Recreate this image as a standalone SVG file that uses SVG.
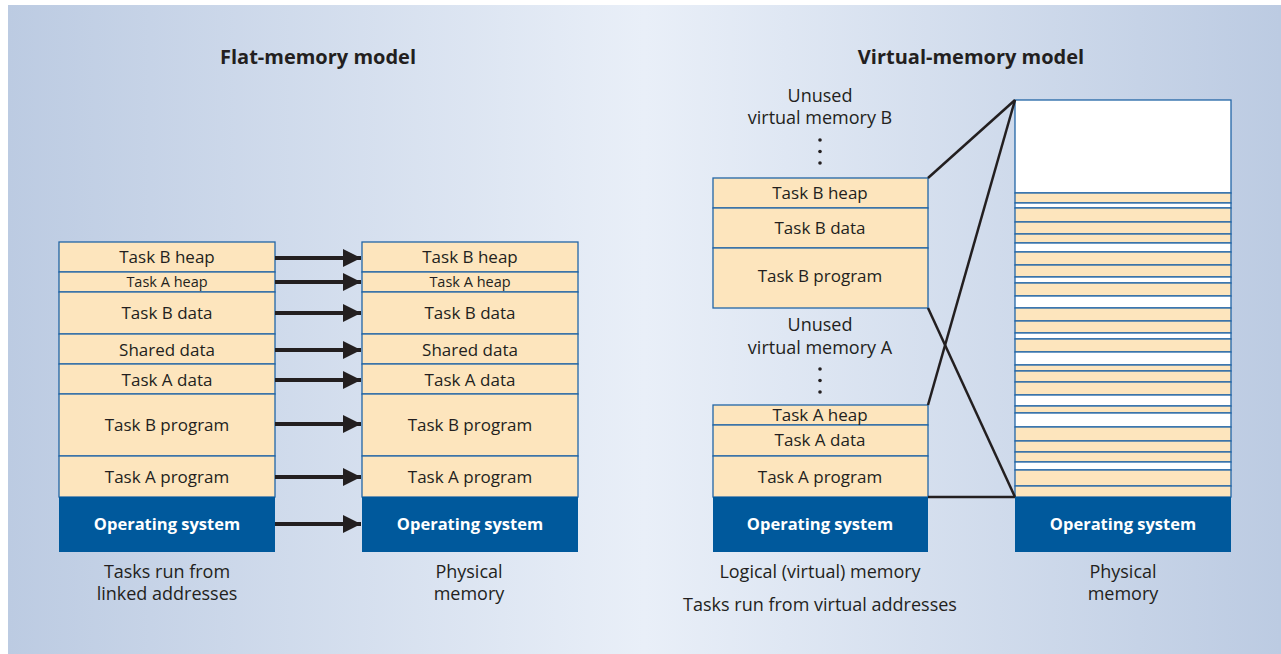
<svg xmlns="http://www.w3.org/2000/svg" width="1281" height="654" viewBox="0 0 1281 654">
<defs>
<linearGradient id="bg" x1="0" y1="0" x2="1" y2="0">
<stop offset="0" stop-color="#bccbe2"/>
<stop offset="0.5" stop-color="#e9eff8"/>
<stop offset="1" stop-color="#bccbe2"/>
</linearGradient>
<marker id="ah" viewBox="0 0 18 18" refX="18" refY="9" markerWidth="18" markerHeight="18" markerUnits="userSpaceOnUse" orient="auto">
<path d="M0,0 L18,9 L0,18 Z" fill="#231f20"/>
</marker>
</defs>
<style>
text{font-family:"Open Sans","Noto Sans","Liberation Sans",sans-serif;fill:#231f20;text-anchor:middle;}
.t{font-size:17px;}
.s{font-size:14.5px;}
.l{font-size:18px;}
.h{font-size:20px;font-weight:bold;}
.os{font-size:16.5px;font-weight:bold;fill:#ffffff;}
.cell{fill:#fde5bd;stroke:#2366a6;stroke-width:1.3;}
.wh{fill:#ffffff;stroke:#2366a6;stroke-width:1.3;}
.osr{fill:#00599c;}
.arr{stroke:#231f20;stroke-width:4;fill:none;marker-end:url(#ah);}
.ln{stroke:#231f20;stroke-width:2.5;fill:none;}
.dot{fill:#231f20;}
</style>
<rect x="8" y="5" width="1273" height="649" fill="url(#bg)"/>

<text class="h" x="318" y="64">Flat-memory model</text>
<text class="h" x="971" y="64">Virtual-memory model</text>

<g id="flat-linked">
<rect class="cell" x="59" y="242" width="216" height="30"/>
<rect class="cell" x="59" y="272" width="216" height="20"/>
<rect class="cell" x="59" y="292" width="216" height="42"/>
<rect class="cell" x="59" y="334" width="216" height="30"/>
<rect class="cell" x="59" y="364" width="216" height="30"/>
<rect class="cell" x="59" y="394" width="216" height="62"/>
<rect class="cell" x="59" y="456" width="216" height="41"/>
<rect class="osr" x="59" y="497" width="216" height="55"/>
<text class="t" x="167" y="263">Task B heap</text>
<text class="s" x="167" y="287">Task A heap</text>
<text class="t" x="167" y="319">Task B data</text>
<text class="t" x="167" y="356">Shared data</text>
<text class="t" x="167" y="386">Task A data</text>
<text class="t" x="167" y="431">Task B program</text>
<text class="t" x="167" y="483">Task A program</text>
<text class="os" x="167" y="530">Operating system</text>
<text class="l" x="167" y="578">Tasks run from</text>
<text class="l" x="167" y="600">linked addresses</text>
</g>

<g id="flat-physical">
<rect class="cell" x="362" y="242" width="216" height="30"/>
<rect class="cell" x="362" y="272" width="216" height="20"/>
<rect class="cell" x="362" y="292" width="216" height="42"/>
<rect class="cell" x="362" y="334" width="216" height="30"/>
<rect class="cell" x="362" y="364" width="216" height="30"/>
<rect class="cell" x="362" y="394" width="216" height="62"/>
<rect class="cell" x="362" y="456" width="216" height="41"/>
<rect class="osr" x="362" y="497" width="216" height="55"/>
<text class="t" x="470" y="263">Task B heap</text>
<text class="s" x="470" y="287">Task A heap</text>
<text class="t" x="470" y="319">Task B data</text>
<text class="t" x="470" y="356">Shared data</text>
<text class="t" x="470" y="386">Task A data</text>
<text class="t" x="470" y="431">Task B program</text>
<text class="t" x="470" y="483">Task A program</text>
<text class="os" x="470" y="530">Operating system</text>
<text class="l" x="469" y="578">Physical</text>
<text class="l" x="469" y="600">memory</text>
</g>

<g id="virtual-logical">
<text class="l" x="820" y="102">Unused</text>
<text class="l" x="820" y="124">virtual memory B</text>
<circle class="dot" cx="820" cy="140" r="1.8"/>
<circle class="dot" cx="820" cy="151.5" r="1.8"/>
<circle class="dot" cx="820" cy="163" r="1.8"/>
<rect class="cell" x="713" y="178" width="215" height="30"/>
<rect class="cell" x="713" y="208" width="215" height="40"/>
<rect class="cell" x="713" y="248" width="215" height="60"/>
<text class="t" x="820" y="199">Task B heap</text>
<text class="t" x="820" y="234">Task B data</text>
<text class="t" x="820" y="282">Task B program</text>
<text class="l" x="820" y="331">Unused</text>
<text class="l" x="820" y="354">virtual memory A</text>
<circle class="dot" cx="820" cy="369" r="1.8"/>
<circle class="dot" cx="820" cy="380.5" r="1.8"/>
<circle class="dot" cx="820" cy="392" r="1.8"/>
<rect class="cell" x="713" y="405" width="215" height="20"/>
<rect class="cell" x="713" y="425" width="215" height="31"/>
<rect class="cell" x="713" y="456" width="215" height="41"/>
<rect class="osr" x="713" y="497" width="215" height="55"/>
<text class="t" x="820" y="421">Task A heap</text>
<text class="t" x="820" y="446">Task A data</text>
<text class="t" x="820" y="483">Task A program</text>
<text class="os" x="820" y="530">Operating system</text>
<text class="l" x="820" y="578">Logical (virtual) memory</text>
<text class="l" x="820" y="611">Tasks run from virtual addresses</text>
</g>

<g id="virtual-physical">
<rect class="wh" x="1015" y="100" width="216" height="93"/>
<rect class="cell" x="1015" y="193" width="216" height="10"/>
<rect class="wh" x="1015" y="203" width="216" height="5"/>
<rect class="cell" x="1015" y="208" width="216" height="14"/>
<rect class="cell" x="1015" y="222" width="216" height="12"/>
<rect class="cell" x="1015" y="234" width="216" height="9"/>
<rect class="wh" x="1015" y="243" width="216" height="9"/>
<rect class="cell" x="1015" y="252" width="216" height="13"/>
<rect class="cell" x="1015" y="265" width="216" height="12"/>
<rect class="wh" x="1015" y="277" width="216" height="6"/>
<rect class="cell" x="1015" y="283" width="216" height="13"/>
<rect class="wh" x="1015" y="296" width="216" height="12"/>
<rect class="cell" x="1015" y="308" width="216" height="13"/>
<rect class="cell" x="1015" y="321" width="216" height="12"/>
<rect class="wh" x="1015" y="333" width="216" height="6"/>
<rect class="cell" x="1015" y="339" width="216" height="13"/>
<rect class="wh" x="1015" y="352" width="216" height="13"/>
<rect class="cell" x="1015" y="365" width="216" height="6"/>
<rect class="cell" x="1015" y="371" width="216" height="11"/>
<rect class="cell" x="1015" y="382" width="216" height="13"/>
<rect class="wh" x="1015" y="395" width="216" height="11"/>
<rect class="cell" x="1015" y="406" width="216" height="7"/>
<rect class="wh" x="1015" y="413" width="216" height="14"/>
<rect class="cell" x="1015" y="427" width="216" height="14"/>
<rect class="cell" x="1015" y="441" width="216" height="11"/>
<rect class="cell" x="1015" y="452" width="216" height="10"/>
<rect class="wh" x="1015" y="462" width="216" height="8"/>
<rect class="cell" x="1015" y="470" width="216" height="16"/>
<rect class="cell" x="1015" y="486" width="216" height="11"/>
<rect class="osr" x="1015" y="497" width="216" height="55"/>
<text class="os" x="1123" y="530">Operating system</text>
<text class="l" x="1123" y="578">Physical</text>
<text class="l" x="1123" y="600">memory</text>
</g>

<g id="connectors">
<line class="arr" x1="275" y1="258" x2="361" y2="258"/>
<line class="arr" x1="275" y1="282" x2="361" y2="282"/>
<line class="arr" x1="275" y1="313" x2="361" y2="313"/>
<line class="arr" x1="275" y1="350" x2="361" y2="350"/>
<line class="arr" x1="275" y1="380" x2="361" y2="380"/>
<line class="arr" x1="275" y1="424" x2="361" y2="424"/>
<line class="arr" x1="275" y1="477" x2="361" y2="477"/>
<line class="arr" x1="275" y1="524" x2="361" y2="524"/>
<line class="ln" x1="928" y1="178" x2="1015" y2="100"/>
<line class="ln" x1="928" y1="405" x2="1015" y2="100"/>
<line class="ln" x1="928" y1="308" x2="1015" y2="497"/>
<line class="ln" x1="928" y1="497" x2="1015" y2="497"/>
</g>
</svg>
